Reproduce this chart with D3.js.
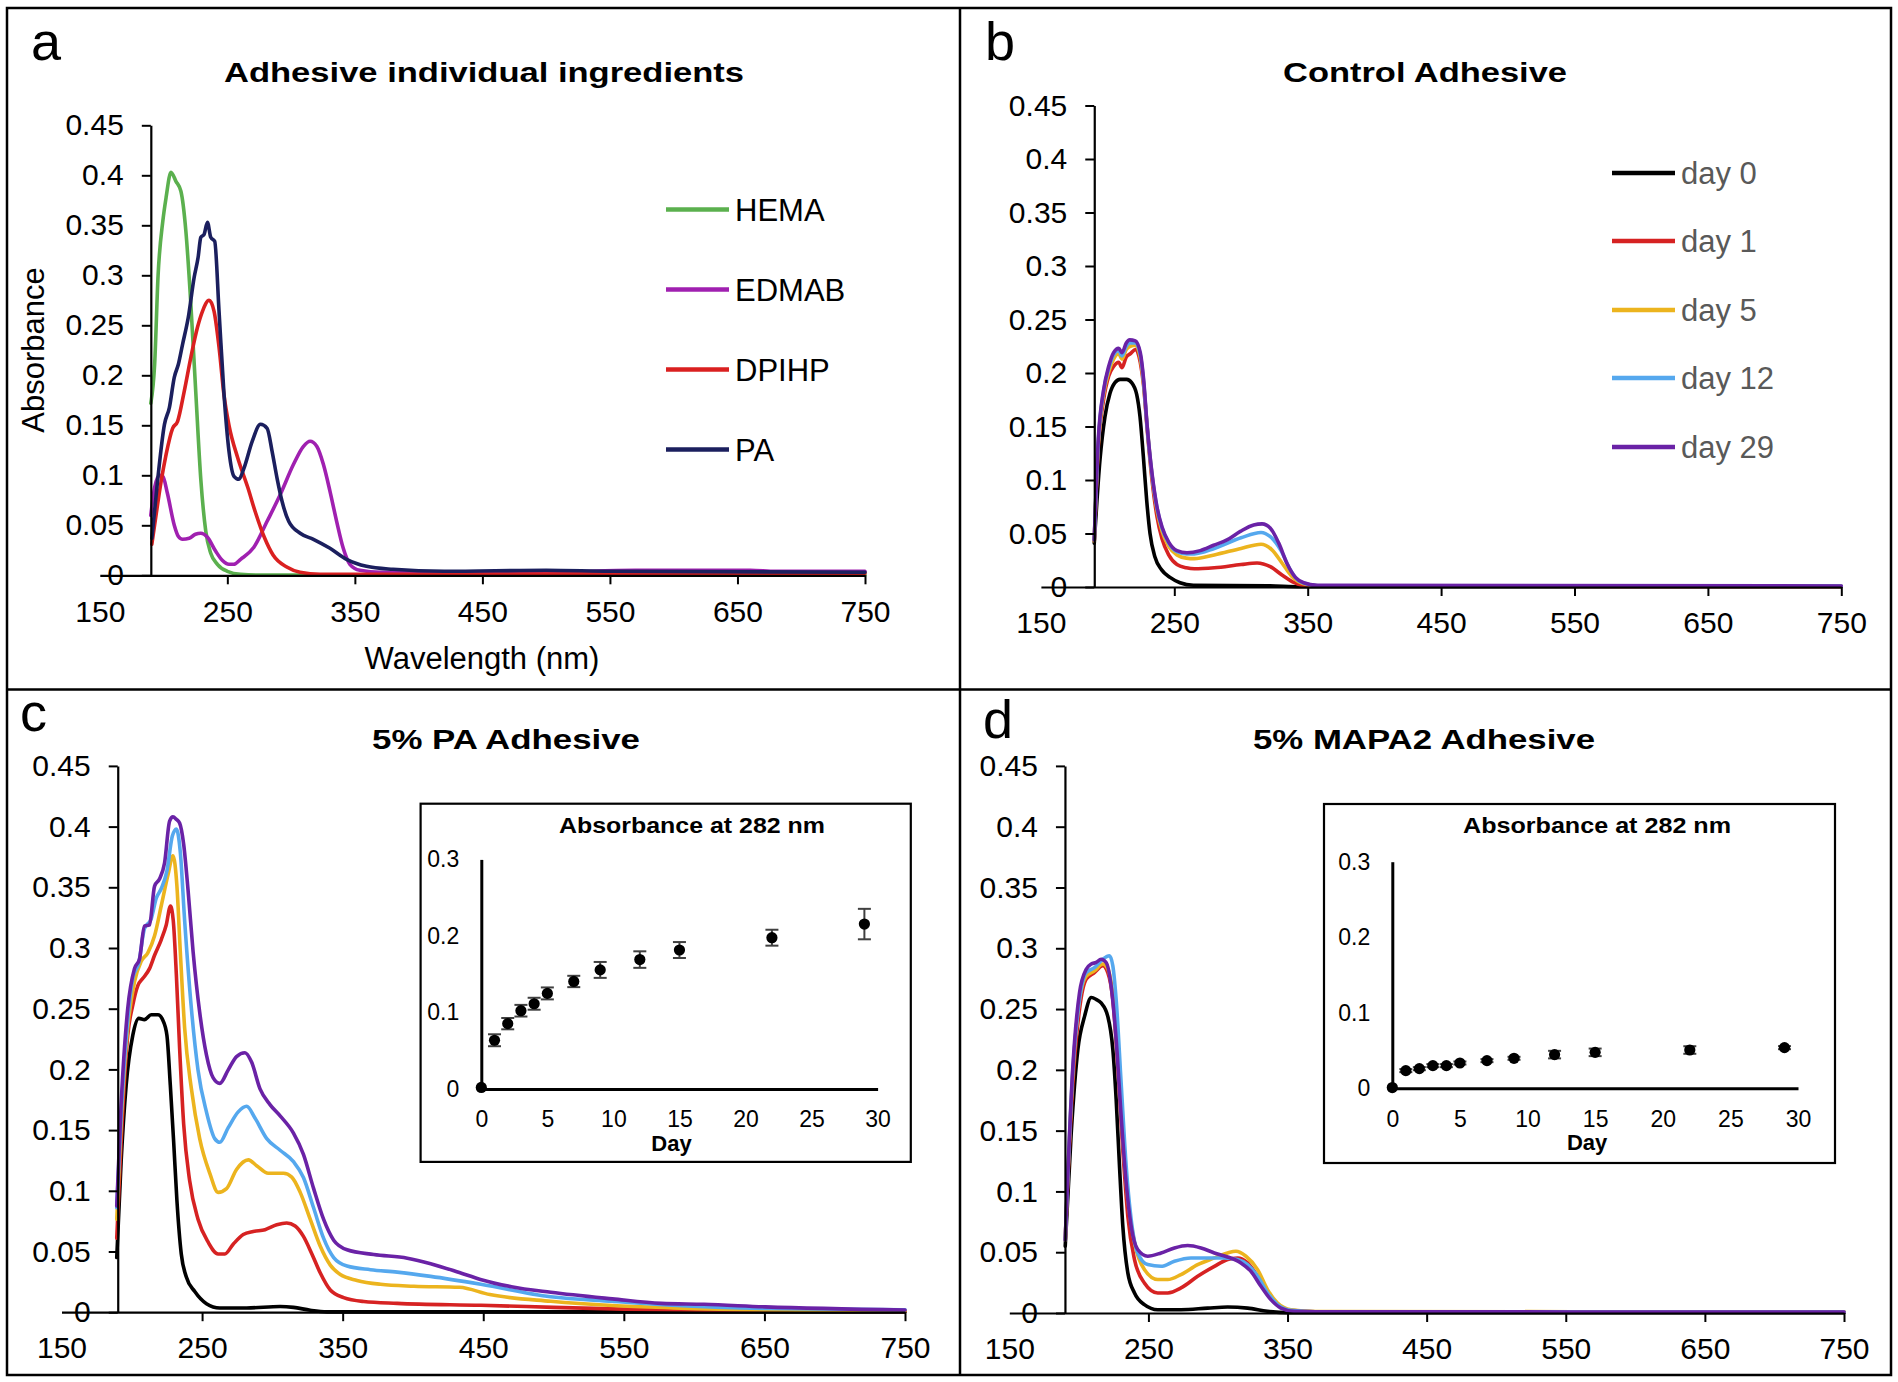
<!DOCTYPE html>
<html><head><meta charset="utf-8">
<script src="https://cdn.jsdelivr.net/npm/d3@7"></script>
<style>
body{margin:0;background:#fff}
svg{display:block}
text{font-family:'Liberation Sans',Arial,Helvetica,sans-serif;fill:#000}
</style>
</head><body>
<svg id="chart" width="1898" height="1382"></svg>
<script>
// ---------------- DATA ----------------
const xTicks = [150, 250, 350, 450, 550, 650, 750];
const yTicks = [0, 0.05, 0.1, 0.15, 0.2, 0.25, 0.3, 0.35, 0.4, 0.45];
const yTickLabels = ["0", "0.05", "0.1", "0.15", "0.2", "0.25", "0.3", "0.35", "0.4", "0.45"];
const insetXTicks = [0, 5, 10, 15, 20, 25, 30];
const insetYTicks = [0, 0.1, 0.2, 0.3];

const panelTitles = ["Adhesive individual ingredients", "Control Adhesive", "5% PA Adhesive", "5% MAPA2 Adhesive"];
const ingredientNames = ["HEMA", "EDMAB", "DPIHP", "PA"];
const dayNames = ["day 0", "day 1", "day 5", "day 12", "day 29"];

// panel a: [wavelength nm, absorbance]
const aHEMA = [[190,0.172],[193,0.211],[195.7,0.3],[199.4,0.354],[202,0.378],[205.8,0.403],[209.7,0.394],[213.6,0.384],[217.5,0.344],[221.4,0.271],[225.3,0.182],[229.2,0.096],[233.1,0.044],[237,0.022],[242.2,0.011],[250,0.004],[260.4,0.001],[280,0.0002],[750,0.0002]];
const aEDMAB = [[190,0.06],[193,0.088],[197,0.1],[199.4,0.099],[203,0.082],[208.4,0.05],[211.5,0.039],[214.9,0.036],[220.1,0.037],[225,0.041],[229.2,0.042],[234.4,0.038],[240.9,0.024],[246,0.015],[251.3,0.011],[255,0.011],[260.4,0.016],[270.8,0.028],[281.2,0.054],[291.6,0.081],[301.9,0.111],[309.7,0.129],[314.9,0.134],[320.1,0.129],[325.3,0.111],[330.5,0.084],[335.7,0.054],[340.9,0.027],[346.1,0.011],[353.9,0.005],[370,0.003],[500,0.003],[570,0.005],[660,0.005],[680,0.004],[750,0.004]];
const aDPIHP = [[190.8,0.031],[194.2,0.061],[198.1,0.094],[202,0.121],[207.1,0.147],[211,0.154],[216.2,0.184],[221.4,0.218],[226.6,0.248],[230.5,0.264],[235.7,0.275],[239.6,0.264],[243.5,0.228],[247.4,0.18],[251.3,0.15],[258,0.118],[266,0.088],[272,0.063],[279,0.038],[286,0.02],[297,0.008],[307,0.003],[322.7,0.001],[400,0.001],[750,0.002]];
const aPA = [[190.8,0.037],[195.5,0.097],[200.7,0.151],[204.6,0.168],[208.4,0.198],[211.6,0.211],[214.9,0.231],[219.4,0.258],[224,0.298],[227.1,0.318],[229.2,0.338],[231.8,0.341],[234.4,0.353],[237,0.338],[240.1,0.334],[243.5,0.264],[247.4,0.181],[251.3,0.124],[255.2,0.099],[259.1,0.096],[263,0.107],[269.5,0.134],[276,0.151],[281.2,0.147],[285.1,0.124],[289,0.097],[292.9,0.074],[298.1,0.054],[307.1,0.042],[317.5,0.036],[330.5,0.027],[343.5,0.016],[359.1,0.009],[379.9,0.006],[420,0.004],[500,0.005],[550,0.004],[750,0.003]];

// panel b: control adhesive
const bDay0 = [[190,0.041],[194.3,0.119],[198,0.159],[201.8,0.181],[205.5,0.191],[209.3,0.194],[214.3,0.194],[218,0.191],[221.8,0.18],[224.3,0.159],[226.8,0.122],[229.3,0.081],[231.8,0.05],[235.5,0.028],[240.5,0.016],[246.8,0.009],[254.3,0.004],[264.3,0.0016],[320,0.0012],[345,0.0003],[750,0.0003]];
const bDay1 = [[190,0.043],[193,0.13],[197,0.175],[200.8,0.197],[204.5,0.206],[208.3,0.21],[210.8,0.205],[214,0.215],[217,0.218],[221,0.222],[224.5,0.21],[227,0.188],[229.5,0.15],[233.3,0.1],[237,0.066],[240.8,0.045],[245.8,0.03],[252,0.021],[259,0.018],[265,0.017],[280,0.018],[300,0.021],[312,0.0225],[322,0.019],[331,0.011],[340,0.004],[348,0.001],[750,0.0005]];
const bDay5 = [[190,0.043],[193,0.133],[197,0.18],[200.8,0.201],[204.5,0.213],[208.3,0.218],[210.8,0.213],[214,0.222],[217,0.225],[221,0.226],[224.5,0.214],[227,0.19],[229.5,0.152],[233.3,0.104],[237,0.072],[240.8,0.052],[245.8,0.038],[252,0.03],[259,0.027],[265,0.0265],[280,0.03],[300,0.036],[315,0.04],[323,0.035],[331,0.022],[338,0.01],[347,0.003],[360,0.001],[750,0.0008]];
const bDay12 = [[190,0.044],[193,0.135],[197,0.183],[200.8,0.204],[204.5,0.217],[208.3,0.221],[210.8,0.216],[214,0.225],[217,0.228],[221,0.228],[224.5,0.217],[227,0.192],[229.5,0.152],[233.3,0.105],[237,0.074],[240.8,0.055],[245.8,0.041],[252,0.033],[259,0.031],[265,0.031],[280,0.036],[300,0.046],[315,0.051],[322,0.047],[330,0.034],[337,0.016],[343,0.006],[352,0.002],[360,0.001],[750,0.0008]];
const bDay29 = [[190,0.044],[193,0.1375],[197,0.184],[200.8,0.206],[204.5,0.219],[208.3,0.223],[210.8,0.219],[214,0.228],[216.5,0.231],[220.8,0.23],[224.5,0.219],[227,0.194],[229.5,0.153],[233.3,0.106],[237,0.075],[240.8,0.056],[245.8,0.042],[252,0.034],[259.5,0.032],[269.5,0.034],[279.5,0.039],[289.5,0.044],[299.5,0.052],[309.5,0.058],[315.8,0.059],[322,0.055],[328.3,0.041],[334.5,0.022],[340.8,0.009],[347,0.004],[357,0.0016],[750,0.001]];

// panel c: 5% PA adhesive
const cDay0 = [[189.3,0.045],[192.4,0.124],[196,0.187],[200.7,0.228],[205,0.242],[209,0.241],[213.8,0.245],[218.6,0.245],[222.1,0.2405],[225,0.228],[227.4,0.187],[229.8,0.14],[232.1,0.092],[235.2,0.048],[238.8,0.029],[244.8,0.017],[253.1,0.007],[262.6,0.0035],[281.7,0.0035],[305.5,0.0047],[315,0.004],[326.9,0.0016],[338.8,0.0003],[750,0.0003]];
const cDay1 = [[189.3,0.061],[192.4,0.14],[197.1,0.228],[200.7,0.253],[204.3,0.269],[207.9,0.275],[212.6,0.283],[216.2,0.294],[221,0.307],[224.5,0.319],[227.5,0.3345],[229.5,0.3225],[231.7,0.278],[234,0.218],[236.9,0.155],[241.2,0.108],[247.1,0.0766],[254.3,0.0577],[261.4,0.048],[266.2,0.048],[272.1,0.056],[279.3,0.064],[286.4,0.0665],[294.8,0.068],[303.1,0.072],[310.2,0.0735],[316.2,0.071],[322.1,0.0624],[328.1,0.048],[334,0.0325],[341.2,0.0183],[350.7,0.012],[365,0.0088],[388.8,0.0073],[448.3,0.0057],[500,0.004],[550,0.0025],[650,0.001],[750,0.0005]];
const cDay5 = [[189.3,0.0766],[192.4,0.155],[197.1,0.234],[201.9,0.272],[206.7,0.289],[211.4,0.296],[216.2,0.31],[221,0.335],[225.7,0.36],[229.3,0.376],[232.1,0.351],[234.5,0.297],[237.6,0.234],[242.4,0.184],[248.3,0.143],[255.5,0.1144],[261.4,0.0987],[267.4,0.1018],[274.5,0.1176],[282.9,0.1255],[288.8,0.1207],[297.1,0.1144],[307.9,0.1144],[313.8,0.1113],[319.8,0.0987],[326.9,0.0766],[334,0.0545],[341.2,0.0388],[348.3,0.031],[360.2,0.0262],[376.9,0.023],[400.7,0.0214],[433,0.0205],[454.7,0.0145],[498,0.009],[541.8,0.0055],[585,0.0036],[650.7,0.0018],[750,0.001]];
const cDay12 = [[189.3,0.086],[192.4,0.1617],[197.1,0.2405],[200.7,0.275],[205,0.288],[209,0.316],[213.8,0.324],[217.4,0.341],[221,0.349],[225,0.3635],[228.8,0.392],[231.7,0.398],[234.5,0.379],[237.6,0.3225],[242.4,0.25],[247.1,0.1996],[253.1,0.165],[259,0.143],[262.6,0.14],[268.6,0.152],[275.7,0.165],[281.7,0.1696],[287.6,0.16],[296,0.143],[305.5,0.1334],[315,0.124],[322.1,0.111],[329.3,0.086],[336.4,0.061],[343.6,0.045],[353.1,0.038],[369.8,0.035],[388.8,0.033],[412.6,0.0295],[448.3,0.023],[498,0.0127],[541.8,0.009],[581,0.006],[650.7,0.003],[750,0.002]];
const cDay29 = [[189.3,0.0876],[192.4,0.171],[197.1,0.25],[201.9,0.283],[205.5,0.291],[209,0.318],[212.6,0.319],[216.2,0.351],[219.8,0.357],[223.3,0.37],[226.9,0.4045],[229.3,0.408],[231.7,0.406],[234,0.403],[236.9,0.3855],[240,0.348],[243.6,0.297],[248.3,0.247],[253.1,0.212],[257.9,0.193],[262.6,0.1885],[268.6,0.1996],[274.5,0.2106],[280.5,0.2137],[285.2,0.206],[291.2,0.184],[298.3,0.171],[305.5,0.1617],[315,0.1475],[322.1,0.13],[329.3,0.102],[336.4,0.0766],[343.6,0.0593],[353.1,0.0514],[372.1,0.0475],[396,0.0445],[412.6,0.04],[433,0.0327],[448,0.027],[470,0.021],[498,0.0164],[541.8,0.011],[576.7,0.0073],[607,0.0065],[650.7,0.0044],[750,0.0018]];

// panel d: 5% MAPA2 adhesive
const dDay0 = [[190.2,0.055],[194.5,0.148],[199.3,0.217],[204.1,0.244],[208.9,0.2595],[212.4,0.258],[216,0.255],[220.8,0.244],[224.4,0.217],[226.8,0.176],[229.2,0.121],[231.6,0.0714],[235.2,0.033],[240,0.0165],[247.1,0.0069],[256.7,0.0027],[273.4,0.0027],[292.6,0.004],[306.9,0.0049],[321.3,0.004],[335.6,0.0014],[350,0.0003],[750,0.0003]];
const dDay1 = [[190.2,0.06],[195.7,0.189],[200.5,0.25],[205.3,0.2746],[211.2,0.28],[217.2,0.2856],[220.8,0.28],[224.4,0.258],[228,0.203],[231.6,0.1345],[235.2,0.0796],[240,0.044],[247.1,0.0247],[256.7,0.0165],[263.9,0.0165],[273.4,0.0206],[285.4,0.0302],[297.4,0.0384],[306.9,0.044],[314.1,0.0453],[321.3,0.0412],[328.5,0.0302],[335.6,0.0165],[342.8,0.0069],[352.4,0.0022],[370,0.001],[750,0.0008]];
const dDay5 = [[190.2,0.06],[195.7,0.198],[200.5,0.258],[205.3,0.277],[211.2,0.2814],[217.2,0.287],[220.8,0.283],[224.4,0.261],[228,0.2087],[231.6,0.143],[235.2,0.0934],[240,0.0577],[247.1,0.0357],[256.7,0.0275],[263.9,0.0275],[273.4,0.0316],[285.4,0.0398],[297.4,0.0453],[306.9,0.0494],[312.9,0.0508],[320.1,0.0467],[328.5,0.0357],[335.6,0.0192],[342.8,0.0082],[352.4,0.0027],[370,0.0012],[750,0.001]];
const dDay12 = [[190.2,0.06],[195.7,0.2],[200.5,0.258],[205.3,0.28],[211.2,0.284],[217.2,0.291],[222,0.2938],[224.4,0.2856],[226.8,0.258],[230.4,0.189],[234,0.121],[237.6,0.0769],[242.3,0.0494],[249.5,0.0398],[259.1,0.0384],[268.7,0.0426],[280.6,0.0453],[292.6,0.0453],[304.5,0.0453],[314.1,0.044],[321.3,0.0398],[328.5,0.0302],[335.6,0.0165],[342.8,0.0069],[352.4,0.0022],[370,0.001],[750,0.0008]];
const dDay29 = [[190.2,0.06],[195.7,0.203],[200.5,0.2636],[205.3,0.2828],[208.9,0.287],[212.4,0.2883],[216,0.291],[219.6,0.2883],[223.2,0.269],[226.8,0.225],[230.4,0.162],[234,0.107],[237.6,0.0714],[242.3,0.0522],[249.5,0.0467],[259.1,0.0494],[268.7,0.0535],[278.2,0.0555],[287.8,0.0535],[297.4,0.0494],[306.9,0.0461],[316.5,0.0412],[323.7,0.0343],[330.9,0.022],[338,0.011],[345.2,0.0041],[354.8,0.0014],[370,0.001],[750,0.0008]];

// insets: absorbance at 282 nm vs day
const insetDays = [0, 1, 2, 3, 4, 5, 7, 9, 12, 15, 22, 29];
const paAbs282 = [0.002, 0.0637, 0.0854, 0.1023, 0.1114, 0.1249, 0.1405, 0.1556, 0.1691, 0.1816, 0.1977, 0.2155];
const paErr282 = [0, 0.0078, 0.0074, 0.0076, 0.0078, 0.0078, 0.0074, 0.0104, 0.0108, 0.0104, 0.0104, 0.0199];
const mapaAbs282 = [0.001, 0.0234, 0.026, 0.030, 0.030, 0.0335, 0.0366, 0.0397, 0.0446, 0.0476, 0.0507, 0.0538];
const mapaErr282 = [0, 0.002, 0.002, 0.002, 0.002, 0.002, 0.002, 0.002, 0.005, 0.005, 0.005, 0.002];

// ---------------- STYLE / LAYOUT ----------------
const ingredientColors = ["#5BB04E", "#A020B0", "#DA2020", "#1B1F5E"];
const dayColors = ["#000000", "#D62222", "#ECB41E", "#55A8EE", "#6A22A6"];

const svg = d3.select("#chart");

// frames
svg.append("rect").attr("x", 7).attr("y", 8).attr("width", 1884).attr("height", 1367)
  .attr("fill", "none").attr("stroke", "#000").attr("stroke-width", 2.5);
svg.append("line").attr("x1", 960).attr("x2", 960).attr("y1", 8).attr("y2", 1375).attr("stroke", "#000").attr("stroke-width", 2.5);
svg.append("line").attr("x1", 7).attr("x2", 1891).attr("y1", 689.5).attr("y2", 689.5).attr("stroke", "#000").attr("stroke-width", 2.5);

const panels = [
  {letter: "a", lx: 31, ly: 60, xr: [99.8, 865], yr: [575.3, 125.3], title: panelTitles[0], tx: 224, ty: 82, tw: 520,
   series: [aHEMA, aEDMAB, aDPIHP, aPA], colors: ingredientColors, names: ingredientNames,
   legend: {x1: 666, x2: 729, tx: 735, ys: [209.5, 289.5, 369.5, 449.5], color: "#000"}},
  {letter: "b", lx: 985, ly: 60, xr: [1040.9, 1841.3], yr: [587, 105.5], title: panelTitles[1], tx: 1283, ty: 82, tw: 284,
   series: [bDay0, bDay1, bDay5, bDay12, bDay29], colors: dayColors, names: dayNames,
   legend: {x1: 1612, x2: 1675, tx: 1681, ys: [173, 241, 310, 378, 447], color: "#595959"}},
  {letter: "c", lx: 20, ly: 731, xr: [61.5, 905], yr: [1312.2, 765.9], title: panelTitles[2], tx: 372, ty: 749, tw: 268,
   series: [cDay0, cDay1, cDay5, cDay12, cDay29], colors: dayColors,
   inset: {box: [420.6, 803.7, 910.8, 1161.9], xr: [481.3, 877.6], yr: [1089, 859.4], tx: 559, tw: 266, vals: paAbs282, errs: paErr282}},
  {letter: "d", lx: 983, ly: 738, xr: [1009.3, 1844], yr: [1313, 765.9], title: panelTitles[3], tx: 1253, ty: 749, tw: 342,
   series: [dDay0, dDay1, dDay5, dDay12, dDay29], colors: dayColors,
   inset: {box: [1324, 804, 1835, 1163], xr: [1392.3, 1798], yr: [1088.3, 861.7], tx: 1463, tw: 268, vals: mapaAbs282, errs: mapaErr282}}
];

panels.forEach(p => {
  const g = svg.append("g");
  const x = d3.scaleLinear().domain([150, 750]).range(p.xr);
  const y = d3.scaleLinear().domain([0, 0.45]).range(p.yr);

  // letter
  g.append("text").attr("x", p.lx).attr("y", p.ly).attr("font-size", 54).text(p.letter);
  // title
  g.append("text").attr("x", p.tx).attr("y", p.ty).attr("font-size", 27).attr("font-weight", "bold")
    .attr("textLength", p.tw).attr("lengthAdjust", "spacingAndGlyphs").text(p.title);

  // lines
  const line = d3.line().x(d => x(d[0])).y(d => y(d[1])).curve(d3.curveMonotoneX);
  p.series.forEach((s, i) => {
    g.append("path").attr("d", line(s)).attr("fill", "none").attr("stroke", p.colors[i])
      .attr("stroke-width", 3.6).attr("stroke-linejoin", "round").attr("stroke-linecap", "round");
  });

  // axes
  const xAxis = d3.axisBottom(x).tickValues(xTicks).tickFormat(d3.format("d")).tickSize(9).tickSizeOuter(0).tickPadding(16);
  const gx = g.append("g").attr("transform", `translate(0,${y(0)})`).call(xAxis);
  const yAxis = d3.axisLeft(y).tickValues(yTicks).tickFormat((d, i) => yTickLabels[i]).tickSize(9).tickSizeOuter(0).tickPadding(18);
  const gy = g.append("g").attr("transform", `translate(${x(190)},0)`).call(yAxis);
  [gx, gy].forEach(a => {
    a.selectAll("path.domain").attr("stroke", "#000").attr("stroke-width", 2.2);
    a.selectAll(".tick line").attr("stroke", "#000").attr("stroke-width", 2);
    a.selectAll(".tick text").attr("font-size", 30).attr("fill", "#000")
      .style("font-family", "'Liberation Sans',Arial,sans-serif");
  });
  gx.selectAll(".tick line").filter(d => d === 150).remove();

  // legend
  if (p.legend) {
    const L = p.legend;
    p.names.forEach((n, i) => {
      g.append("line").attr("x1", L.x1).attr("x2", L.x2).attr("y1", L.ys[i]).attr("y2", L.ys[i])
        .attr("stroke", p.colors[i]).attr("stroke-width", 4.5);
      g.append("text").attr("x", L.tx).attr("y", L.ys[i]).attr("dy", "0.36em").attr("font-size", 31)
        .style("fill", L.color).text(n);
    });
  }

  // inset
  if (p.inset) {
    const I = p.inset;
    g.append("rect").attr("x", I.box[0]).attr("y", I.box[1]).attr("width", I.box[2] - I.box[0]).attr("height", I.box[3] - I.box[1])
      .attr("fill", "#fff").attr("stroke", "#000").attr("stroke-width", 2.2);
    const ix = d3.scaleLinear().domain([0, 30]).range(I.xr);
    const iy = d3.scaleLinear().domain([0, 0.3]).range(I.yr);
    g.append("text").attr("x", I.tx).attr("y", I.box[1] + 29).attr("font-size", 22).attr("font-weight", "bold")
      .attr("textLength", I.tw).attr("lengthAdjust", "spacingAndGlyphs").text("Absorbance at 282 nm");
    const ixa = g.append("g").attr("transform", `translate(0,${iy(0)})`)
      .call(d3.axisBottom(ix).tickValues(insetXTicks).tickFormat(d3.format("d")).tickSize(0).tickPadding(22));
    const iya = g.append("g").attr("transform", `translate(${ix(0)},0)`)
      .call(d3.axisLeft(iy).tickValues(insetYTicks).tickFormat(d => d === 0 ? "0" : d3.format(".1f")(d)).tickSize(0).tickPadding(22));
    [ixa, iya].forEach(a => {
      a.selectAll("path.domain").attr("stroke", "#000").attr("stroke-width", 3);
      a.selectAll(".tick text").attr("font-size", 23).attr("fill", "#000")
        .style("font-family", "'Liberation Sans',Arial,sans-serif");
    });
    g.append("text").attr("x", (I.xr[0] + I.xr[1]) / 2 - 8).attr("y", iy(0) + 62).attr("text-anchor", "middle")
      .attr("font-size", 22).attr("font-weight", "bold").text("Day");
    // error bars
    insetDays.forEach((dd, i) => {
      const e = I.errs[i];
      if (e > 0) {
        const cx = ix(dd);
        g.append("line").attr("x1", cx).attr("x2", cx).attr("y1", iy(I.vals[i] - e)).attr("y2", iy(I.vals[i] + e))
          .attr("stroke", "#404040").attr("stroke-width", 2);
        [I.vals[i] - e, I.vals[i] + e].forEach(v => {
          g.append("line").attr("x1", cx - 6.5).attr("x2", cx + 6.5).attr("y1", iy(v)).attr("y2", iy(v))
            .attr("stroke", "#404040").attr("stroke-width", 2);
        });
      }
    });
    g.selectAll(null).data(insetDays).enter().append("circle")
      .attr("cx", d => ix(d)).attr("cy", (d, i) => iy(I.vals[i])).attr("r", 5.6).attr("fill", "#000");
  }
});

// axis titles for panel a
svg.append("text").attr("x", 482).attr("y", 669).attr("text-anchor", "middle").attr("font-size", 31).text("Wavelength (nm)");
svg.append("text").attr("transform", "translate(44,350) rotate(-90)").attr("text-anchor", "middle").attr("font-size", 31).text("Absorbance");
</script>
</body></html>
